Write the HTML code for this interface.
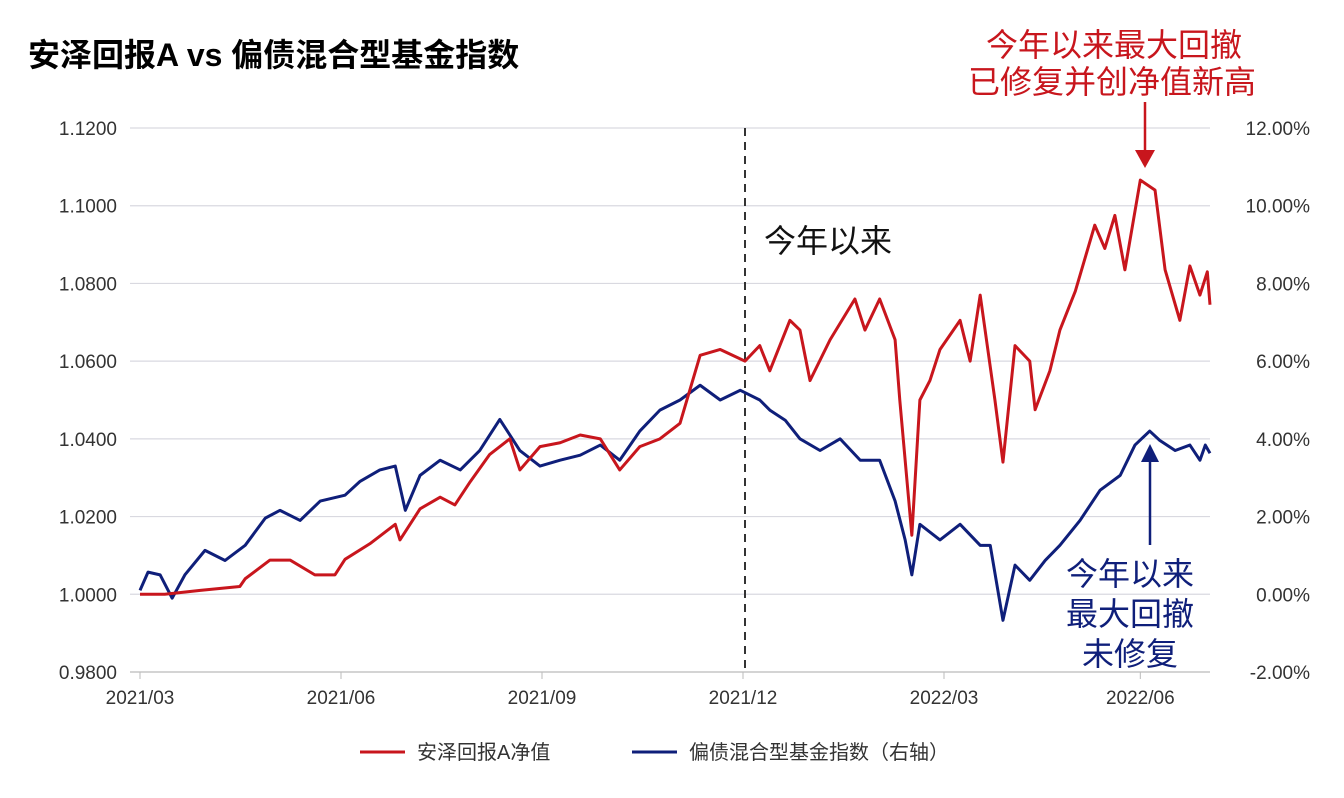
<!DOCTYPE html>
<html><head><meta charset="utf-8">
<style>
body{margin:0;background:#fff;}
svg{display:block;font-family:"Liberation Sans","Noto Sans CJK SC",sans-serif;}
</style></head>
<body>
<svg id="chart" width="1344" height="798">
<text x="28" y="66" font-size="32" font-weight="bold" fill="#000">安泽回报A vs 偏债混合型基金指数</text>
</svg>
<script>
// month offsets from 2021/03
const redT=[0,0.37,0.90,1.49,1.57,1.94,2.24,2.61,2.91,3.06,3.43,3.81,3.88,4.18,4.48,4.70,4.93,5.22,5.52,5.67,5.97,6.27,6.57,6.87,7.16,7.46,7.76,8.06,8.36,8.66,9.03,9.25,9.40,9.70,9.85,10.0,10.3,10.67,10.82,11.04,11.27,11.34,11.52,11.64,11.79,11.94,12.24,12.39,12.54,12.76,12.88,13.06,13.28,13.36,13.58,13.73,13.96,14.25,14.40,14.55,14.70,14.93,15.15,15.30,15.52,15.67,15.82,15.93,15.97];
const redV=[1.0,1.0,1.001,1.002,1.004,1.0088,1.0088,1.005,1.005,1.009,1.013,1.018,1.014,1.022,1.025,1.023,1.029,1.036,1.040,1.032,1.038,1.039,1.041,1.040,1.032,1.038,1.040,1.044,1.0615,1.063,1.060,1.064,1.0575,1.0705,1.068,1.055,1.0655,1.076,1.068,1.076,1.0655,1.050,1.0152,1.050,1.055,1.063,1.0705,1.060,1.077,1.050,1.034,1.064,1.060,1.0475,1.0575,1.068,1.078,1.095,1.089,1.0975,1.0835,1.1066,1.104,1.0835,1.0705,1.0845,1.077,1.083,1.0745];
const blueT=[0,0.12,0.30,0.48,0.67,0.97,1.27,1.57,1.87,2.09,2.39,2.69,3.06,3.28,3.58,3.81,3.96,4.18,4.48,4.78,5.07,5.37,5.67,5.97,6.27,6.57,6.87,7.16,7.46,7.76,8.06,8.36,8.66,8.96,9.25,9.40,9.63,9.85,10.15,10.45,10.75,11.04,11.27,11.42,11.52,11.64,11.94,12.24,12.54,12.69,12.88,13.06,13.28,13.51,13.73,14.03,14.33,14.63,14.85,15.07,15.22,15.45,15.67,15.82,15.90,15.97];
const blueV=[0.1,0.57,0.5,-0.1,0.5,1.13,0.87,1.26,1.96,2.16,1.9,2.4,2.55,2.9,3.2,3.3,2.16,3.06,3.45,3.2,3.7,4.5,3.7,3.3,3.45,3.58,3.84,3.45,4.2,4.74,5.0,5.38,5.0,5.25,5.0,4.74,4.48,4.0,3.7,4.0,3.45,3.45,2.4,1.4,0.5,1.8,1.4,1.8,1.26,1.26,-0.67,0.75,0.36,0.87,1.26,1.9,2.68,3.06,3.84,4.2,3.96,3.7,3.84,3.45,3.84,3.63];
const leftTicks=[1.12,1.10,1.08,1.06,1.04,1.02,1.00,0.98];
const rightTicks=[12,10,8,6,4,2,0,-2];
const xTickLabels=["2021/03","2021/06","2021/09","2021/12","2022/03","2022/06"];
const xTickT=[0,3,6,9,12,14.93];

const svg=document.getElementById('chart');
const NS='http://www.w3.org/2000/svg';
const X0=140,PXM=67,YTOP=128,YBOT=672;
const xS=t=>X0+t*PXM;
const yL=v=>YTOP+(1.12-v)/0.14*(YBOT-YTOP);
const yR=p=>YTOP+(12-p)/14*(YBOT-YTOP);
function mk(tag,attrs,txt){const e=document.createElementNS(NS,tag);for(const k in attrs)e.setAttribute(k,attrs[k]);if(txt!==undefined)e.textContent=txt;svg.appendChild(e);return e;}

leftTicks.forEach((v,i)=>{
  const y=yL(v);
  const g=mk('line',{x1:130,x2:1210,y1:y,y2:y,stroke:i===leftTicks.length-1?'#bbb':'#d9d9e0','stroke-width':1.2});
  
  
  const t=mk('text',{x:117,y:y+7,'font-size':19,fill:'#333','text-anchor':'end'},v.toFixed(4));
  
  
});
rightTicks.forEach(p=>{
  const t=mk('text',{x:1310,y:yR(p)+7,'font-size':19,fill:'#333','text-anchor':'end'},p.toFixed(2)+'%');
  
  
});
xTickLabels.forEach((l,i)=>{
  const x=xS(xTickT[i]);
  const tk=mk('line',{x1:x,x2:x,y1:YBOT,y2:YBOT+7,stroke:'#bbb'});
  
  
  const t=mk('text',{x:x,y:YBOT+32,'font-size':19,fill:'#333','text-anchor':'middle'},l);
  
  
});
const dl=mk('line',{x1:745,x2:745,y1:YTOP,y2:YBOT,stroke:'#333','stroke-width':2,'stroke-dasharray':'8,6'});


const ytd=mk('text',{x:764,y:252,'font-size':32,fill:'#111'},'今年以来');



const bp=mk('polyline',{points:blueT.map((t,i)=>xS(t)+','+yR(blueV[i])).join(' '),fill:'none',stroke:'#0f1f7a','stroke-width':3,'stroke-linejoin':'round'});


const rp=mk('polyline',{points:redT.map((t,i)=>xS(t)+','+yL(redV[i])).join(' '),fill:'none',stroke:'#c8161d','stroke-width':3,'stroke-linejoin':'round'});



// annotations
const ra=mk('text',{x:1114,y:56,'font-size':32,fill:'#c8161d','text-anchor':'middle'},'今年以来最大回撤');


const ra2=mk('text',{x:1112,y:93,'font-size':32,fill:'#c8161d','text-anchor':'middle'},'已修复并创净值新高');


const rl=mk('line',{x1:1145,x2:1145,y1:102,y2:152,stroke:'#c8161d','stroke-width':2.5});


const rh=mk('polygon',{points:'1135,150 1155,150 1145,168',fill:'#c8161d'});


['今年以来','最大回撤','未修复'].forEach((s,i)=>{
  const t=mk('text',{x:1130,y:585+i*40,'font-size':32,fill:'#0f1f7a','text-anchor':'middle'},s);
  
  
});
const bl=mk('line',{x1:1150,x2:1150,y1:545,y2:458,stroke:'#0f1f7a','stroke-width':2.5});


const bh=mk('polygon',{points:'1141,462 1159,462 1150,444',fill:'#0f1f7a'});



// legend
const l1=mk('line',{x1:360,x2:405,y1:752,y2:752,stroke:'#c8161d','stroke-width':3});


const lt1=mk('text',{x:417,y:759,'font-size':20,fill:'#333'},'安泽回报A净值');


const l2=mk('line',{x1:632,x2:677,y1:752,y2:752,stroke:'#0f1f7a','stroke-width':3});


const lt2=mk('text',{x:689,y:759,'font-size':20,fill:'#333'},'偏债混合型基金指数（右轴）');


</script>
</body></html>
